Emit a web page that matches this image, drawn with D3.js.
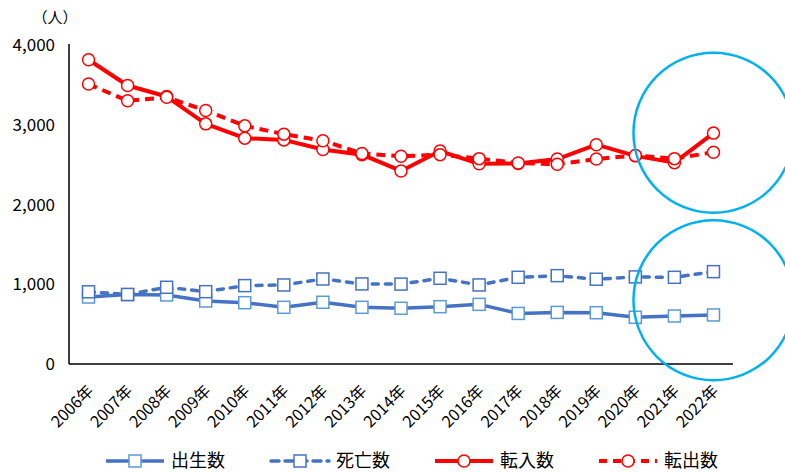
<!DOCTYPE html>
<html><head><meta charset="utf-8">
<script src="https://cdn.jsdelivr.net/npm/d3@7"></script>
<style>body{margin:0;background:#fff}svg{display:block}text{font-family:"Noto Sans CJK JP","Noto Sans",sans-serif;fill:#000}</style>
</head><body><svg id="c" width="785" height="472"></svg>
<script>
const years = ["2006年","2007年","2008年","2009年","2010年","2011年","2012年","2013年","2014年","2015年","2016年","2017年","2018年","2019年","2020年","2021年","2022年"];
const births = [840,870,866,790,769,711,774,711,699,719,748,634,647,643,586,602,615];
const deaths = [905,872,962,907,983,991,1066,1004,1002,1075,991,1087,1108,1063,1092,1087,1158];
const moveIn = [3815,3492,3354,3011,2832,2810,2690,2625,2421,2670,2510,2515,2570,2750,2610,2525,2895];
const moveOut = [3510,3300,3345,3178,2986,2882,2800,2640,2605,2625,2575,2520,2505,2570,2615,2575,2656];
const yTicks = [0,1000,2000,3000,4000];
const yUnit = "（人）";
const seriesNames = ["出生数","死亡数","転入数","転出数"];

(function () {
const svg = d3.select("#c");
const pL = 69, pR = 733, pT = 45, pB = 364;
const x = d3.scaleBand().domain(years).range([pL, pR]);
const y = d3.scaleLinear().domain([0, 4000]).range([pB, pT]);
const cx = d => x(d) + x.bandwidth()/2;

svg.append("g").selectAll("text").data(yTicks).join("text")
  .attr("x", 55).attr("y", d => y(d)).attr("dy", "0.36em")
  .attr("text-anchor", "end").attr("font-size", 17).attr("fill", "#222")
  .text(d => d3.format(",")(d));
svg.append("text").attr("x", 55).attr("y", 23).attr("text-anchor", "middle")
  .attr("font-size", 15).text(yUnit);

svg.append("line").attr("x1", pL).attr("x2", pL).attr("y1", pT - 1).attr("y2", pB)
  .attr("stroke", "#000").attr("stroke-width", 1.5);
svg.append("line").attr("x1", pL).attr("x2", pR).attr("y1", pB).attr("y2", pB)
  .attr("stroke", "#000").attr("stroke-width", 1.5);

svg.append("g").selectAll("text").data(years).join("text")
  .attr("text-anchor", "end").attr("font-size", 16)
  .attr("transform", d => `translate(${cx(d) + 6},${pB + 28}) rotate(-45)`)
  .text(d => d);

const series = [
  {name: seriesNames[0], data: births, color: "#4472C4", dash: null, marker: "sq", mstroke: "#5B9BD5", w: 3.5},
  {name: seriesNames[1], data: deaths, color: "#4472C4", dash: "6,7", marker: "sq", mstroke: "#4472C4", w: 3.5},
  {name: seriesNames[2], data: moveIn, color: "#FF0000", dash: null, marker: "ci", mstroke: "#FF0000", w: 4},
  {name: seriesNames[3], data: moveOut, color: "#FF0000", dash: "9,6", marker: "ci", mstroke: "#FF0000", w: 4}
];

const line = d3.line().x((d, i) => cx(years[i])).y(d => y(d));
function drawMarker(g, px, py, s) {
  if (s.marker === "sq") {
    g.append("rect").attr("x", px - 6).attr("y", py - 6).attr("width", 12).attr("height", 12)
      .attr("fill", "#fff").attr("stroke", s.mstroke).attr("stroke-width", 1.5);
  } else {
    g.append("circle").attr("cx", px).attr("cy", py).attr("r", 6)
      .attr("fill", "#fff").attr("stroke", s.mstroke).attr("stroke-width", 1.5);
  }
}
series.forEach(s => {
  const g = svg.append("g");
  g.append("path").attr("d", line(s.data)).attr("fill", "none").attr("stroke", s.color)
    .attr("stroke-width", s.w).attr("stroke-dasharray", s.dash)
    .attr("stroke-linecap", s.dash && s.color === "#4472C4" ? "round" : "butt")
    .attr("stroke-linejoin", "round");
  s.data.forEach((v, i) => drawMarker(g, cx(years[i]), y(v), s));
});

[2900, 800].forEach(v => {
  svg.append("circle").attr("cx", cx(years[16])).attr("cy", y(v)).attr("r", 80)
    .attr("fill", "none").attr("stroke", "#00B0F0").attr("stroke-width", 2.5);
});

const legX = [106, 271, 435, 599];
const legY = 461;
series.forEach((s, i) => {
  const g = svg.append("g");
  g.append("line").attr("x1", legX[i]).attr("x2", legX[i] + 58).attr("y1", legY).attr("y2", legY)
    .attr("stroke", s.color).attr("stroke-width", s.w).attr("stroke-dasharray", s.dash ? "8,6" : null)
    .attr("stroke-linecap", s.dash && s.color === "#4472C4" ? "round" : "butt");
  drawMarker(g, legX[i] + 29, legY, s);
  g.append("text").attr("x", legX[i] + 65).attr("y", legY).attr("dy", "0.36em")
    .attr("font-size", 18).text(s.name);
});
})();
</script></body></html>
